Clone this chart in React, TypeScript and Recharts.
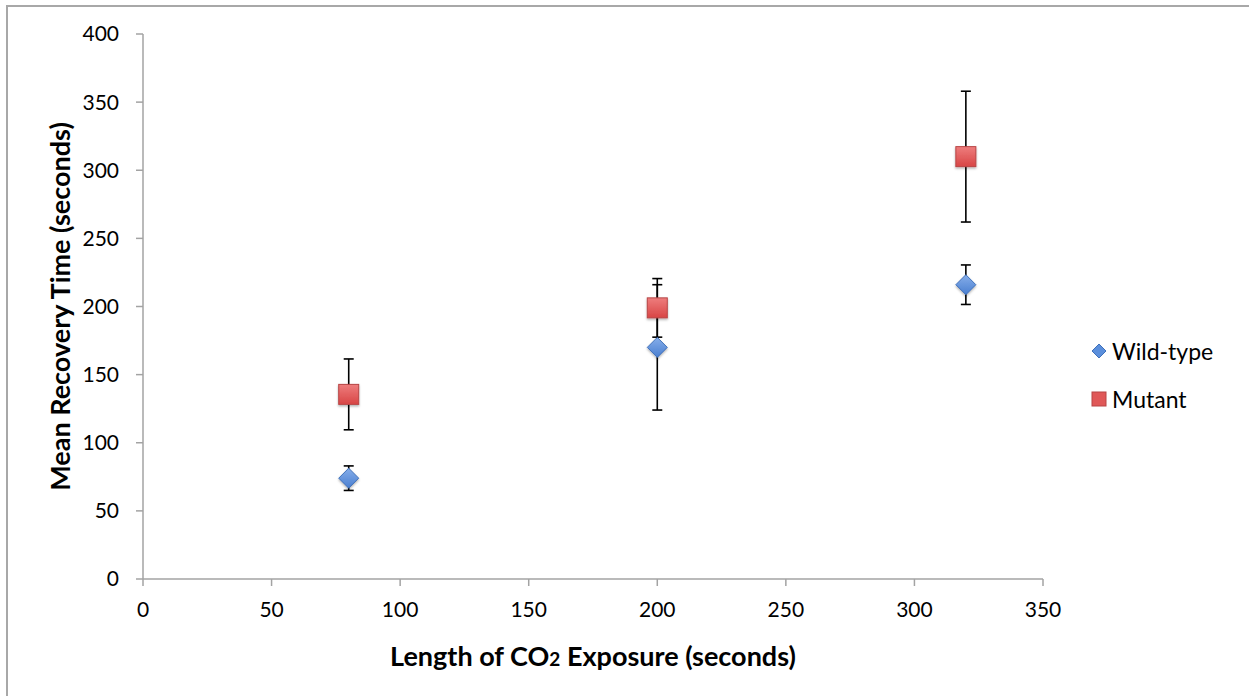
import React from 'react';
import { ScatterChart, Scatter, XAxis, YAxis, ErrorBar, Label } from 'recharts';

// CO2 exposure (s) and mean recovery time (s) with error
const exposure = [80, 200, 320];
const wildTypeMean = [74, 170, 216];
const wildTypeErr = [9, 46, 14.5];
const mutantMean = [135.5, 199, 310];
const mutantErr = [26, 21.5, 48];

const xTicks = [0, 50, 100, 150, 200, 250, 300, 350];
const yTicks = [0, 50, 100, 150, 200, 250, 300, 350, 400];

const wildData = exposure.map((x, i) => ({ x, y: wildTypeMean[i], err: wildTypeErr[i] }));
const mutantData = exposure.map((x, i) => ({ x, y: mutantMean[i], err: mutantErr[i] }));

const AXIS = '#a3a3a3';
const FONT = 'Lato, "Open Sans", sans-serif';

const Diamond = (props: any) => {
    const { cx, cy } = props;
    return (
        <path
            d={`M${cx},${cy - 10} L${cx + 10},${cy} L${cx},${cy + 10} L${cx - 10},${cy} Z`}
            fill="url(#wtGrad)"
            stroke="#3f70ba"
            strokeWidth={1}
            filter="url(#markShadow)"
        />
    );
};

const Square = (props: any) => {
    const { cx, cy } = props;
    return (
        <rect x={cx - 10} y={cy - 10} width={20} height={20} fill="url(#mutGrad)" stroke="#b84545" strokeWidth={1} filter="url(#markShadow)" />
    );
};

const XTitle = (props: any) => {
    const { viewBox } = props;
    return (
        <text x={viewBox.x + viewBox.width / 2} y={viewBox.y + 87} textAnchor="middle" fontSize={27} fontWeight="bold" fill="#000" fontFamily={FONT}>
            Length of CO<tspan fontSize={19}>2</tspan> Exposure (seconds)
        </text>
    );
};

const YTitle = (props: any) => {
    const { viewBox } = props;
    const cx = 59;
    const cy = viewBox.y + viewBox.height / 2;
    return (
        <text x={cx} y={cy} transform={`rotate(-90 ${cx} ${cy})`} textAnchor="middle" dominantBaseline="central" fontSize={27} fontWeight="bold" fill="#000" fontFamily={FONT}>
            Mean Recovery Time (seconds)
        </text>
    );
};

const LegendBox = () => (
    <div style={{ position: 'absolute', left: 1091, top: 337, fontFamily: FONT, fontSize: 23, color: '#000' }}>
        <div style={{ display: 'flex', alignItems: 'center', height: 28, marginBottom: 20 }}>
            <svg width={16} height={16} style={{ marginRight: 5 }}>
                <path d="M8,1 L15,8 L8,15 L1,8 Z" fill="#5b8fdc" stroke="#3f70ba" strokeWidth={1} />
            </svg>
            Wild-type
        </div>
        <div style={{ display: 'flex', alignItems: 'center', height: 28 }}>
            <svg width={16} height={16} style={{ marginRight: 5 }}>
                <rect x={1} y={1} width={14} height={14} fill="#e05858" stroke="#b84545" strokeWidth={1} />
            </svg>
            Mutant
        </div>
    </div>
);

export default function App() {
    return (
        <div style={{ position: 'fixed', left: 0, top: 0, width: 1249, height: 696, background: '#fff', overflow: 'hidden' }}>
            <div style={{ position: 'absolute', left: 6, top: 5, right: -10, bottom: -10, borderTop: '2px solid #a8a8a8', borderLeft: '2px solid #a8a8a8' }} />
            <div style={{ position: 'absolute', left: 0, top: 0 }}>
                <ScatterChart width={1249} height={696} margin={{ top: 34, right: 206, left: 0, bottom: 0 }}>
                    <defs>
                        <linearGradient id="wtGrad" x1="0" y1="0" x2="0" y2="1">
                            <stop offset="0%" stopColor="#86aeea" />
                            <stop offset="100%" stopColor="#4a7fd0" />
                        </linearGradient>
                        <linearGradient id="mutGrad" x1="0" y1="0" x2="0" y2="1">
                            <stop offset="0%" stopColor="#ee7d7d" />
                            <stop offset="100%" stopColor="#d84545" />
                        </linearGradient>
                        <filter id="markShadow" x="-50%" y="-50%" width="200%" height="200%">
                            <feDropShadow dx="0" dy="1.5" stdDeviation="1.2" floodColor="#000" floodOpacity="0.3" />
                        </filter>
                    </defs>
                    <XAxis
                        type="number"
                        dataKey="x"
                        domain={[0, 350]}
                        ticks={xTicks}
                        interval={0}
                        height={117}
                        tickSize={7}
                        tickMargin={16}
                        axisLine={{ stroke: AXIS, strokeWidth: 1.5 }}
                        tickLine={{ stroke: AXIS, strokeWidth: 1.5 }}
                        tick={{ fill: '#000', fontSize: 21, fontFamily: FONT }}
                    >
                        <Label content={XTitle} />
                    </XAxis>
                    <YAxis
                        type="number"
                        dataKey="y"
                        domain={[0, 400]}
                        ticks={yTicks}
                        interval={0}
                        width={143}
                        tickSize={7}
                        tickMargin={17}
                        axisLine={{ stroke: AXIS, strokeWidth: 1.5 }}
                        tickLine={{ stroke: AXIS, strokeWidth: 1.5 }}
                        tick={{ fill: '#000', fontSize: 21, fontFamily: FONT }}
                    >
                        <Label content={YTitle} />
                    </YAxis>
                    <Scatter name="Wild-type" data={wildData} shape={Diamond} isAnimationActive={false}>
                        <ErrorBar dataKey="err" direction="y" width={5} stroke="#000" strokeWidth={1.6} isAnimationActive={false} />
                    </Scatter>
                    <Scatter name="Mutant" data={mutantData} shape={Square} isAnimationActive={false}>
                        <ErrorBar dataKey="err" direction="y" width={5} stroke="#000" strokeWidth={1.6} isAnimationActive={false} />
                    </Scatter>
                </ScatterChart>
            </div>
            <LegendBox />
        </div>
    );
}
